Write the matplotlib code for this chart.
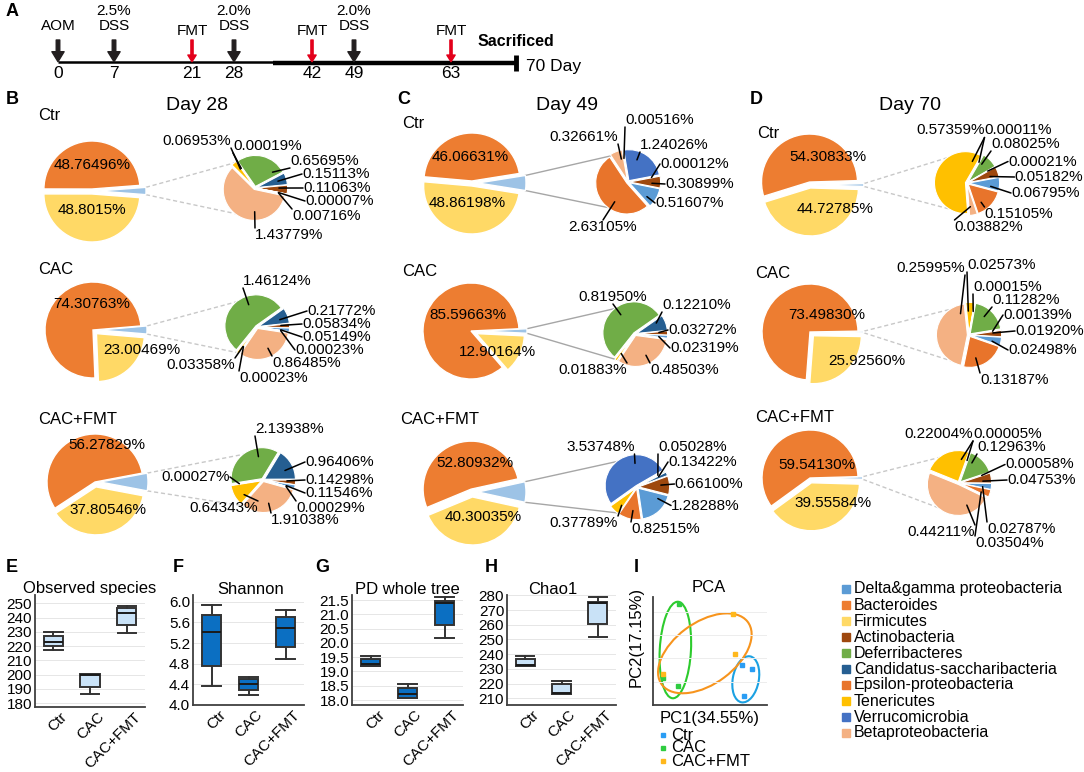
import numpy as np
import matplotlib
matplotlib.use("Agg")
import matplotlib.pyplot as plt
from matplotlib.patches import Ellipse
from matplotlib.ticker import FormatStrFormatter
from matplotlib.transforms import ScaledTranslation

plt.rcParams['font.family'] = ['Liberation Sans', 'DejaVu Sans']

W, H = 1084, 772

# ============================================================ data

# A - protocole
event_days = [0, 7, 21, 28, 42, 49, 63]
event_kind = ["AOM", "DSS", "FMT", "DSS", "FMT", "DSS", "FMT"]
event_text = ["AOM", "2.5%\nDSS", "FMT", "2.0%\nDSS", "FMT", "2.0%\nDSS", "FMT"]
end_day = 70

# B-D - big pie = Bacteroides / Firmicutes / rest (%)
pie_days = ["Day 28", "Day 49", "Day 70"]
pie_groups = ["Ctr", "CAC", "CAC+FMT"]
bacteroides = [["48.76496", "74.30763", "56.27829"],
               ["46.06631", "85.59663", "52.80932"],
               ["54.30833", "73.49830", "59.54130"]]
firmicutes = [["48.8015", "23.00469", "37.80546"],
              ["48.86198", "12.90164", "40.30035"],
              ["44.72785", "25.92560", "39.55584"]]

# small pie = the rest, clockwise as drawn
minor_keys = [
    [["ver", "def", "can", "act", "eps", "dg", "bet", "ten"],
     ["def", "can", "act", "dg", "eps", "bet", "ver", "ten"],
     ["def", "can", "act", "dg", "eps", "bet", "ten", "ver"]],
    [["can", "ver", "def", "act", "dg", "eps", "bet"],
     ["def", "can", "act", "dg", "bet", "ten"],
     ["ver", "def", "can", "act", "dg", "eps", "ten"]],
    [["ver", "def", "can", "act", "dg", "eps", "bet", "ten"],
     ["ten", "ver", "def", "can", "act", "dg", "eps", "bet"],
     ["ten", "ver", "def", "can", "act", "dg", "eps", "bet"]],
]
minor_vals = [
    [["0.00019", "0.65695", "0.15113", "0.11063", "0.00007", "0.00716", "1.43779", "0.06953"],
     ["1.46124", "0.21772", "0.05834", "0.05149", "0.00023", "0.86485", "0.00023", "0.03358"],
     ["2.13938", "0.96406", "0.14298", "0.11546", "0.00029", "1.91038", "0.64343", "0.00027"]],
    [["0.00516", "1.24026", "0.00012", "0.30899", "0.51607", "2.63105", "0.32661"],
     ["0.81950", "0.12210", "0.03272", "0.02319", "0.48503", "0.01883"],
     ["3.53748", "0.05028", "0.13422", "0.66100", "1.28288", "0.82515", "0.37789"]],
    [["0.00011", "0.08025", "0.00021", "0.05182", "0.06795", "0.15105", "0.03882", "0.57359"],
     ["0.02573", "0.00015", "0.11282", "0.00139", "0.01920", "0.02498", "0.13187", "0.25995"],
     ["0.22004", "0.00005", "0.12963", "0.00058", "0.04753", "0.02787", "0.03504", "0.44211"]],
]

phyla = ["Delta&gamma proteobacteria", "Bacteroides", "Firmicutes", "Actinobacteria",
         "Deferribacteres", "Candidatus-saccharibacteria", "Epsilon-proteobacteria",
         "Tenericutes", "Verrucomicrobia", "Betaproteobacteria"]
phyla_keys = ["dg", "bac", "fir", "act", "def", "can", "eps", "ten", "ver", "bet"]
phyla_colors = ["#5B9BD5", "#ED7D31", "#FFD966", "#9E480E", "#70AD47", "#255E91",
                "#E8742B", "#FFC000", "#4472C4", "#F4B183"]
col = dict(zip(phyla_keys, phyla_colors))
other_color = "#9DC3E6"

# E-H - alpha diversity, box stats
box_groups = ["Ctr", "CAC", "CAC+FMT"]
box_titles = ["Observed species", "Shannon", "PD whole tree", "Chao1"]
box_whislo = [[217.4, 186.0, 229.0], [4.37, 4.19, 4.89], [19.19, 18.08, 20.18], [231.9, 212.8, 252.0]]
box_q1 = [[219.8, 191.4, 234.4], [4.76, 4.29, 5.12], [19.19, 18.08, 20.62], [231.9, 212.8, 260.8]]
box_med = [[222.6, 200.0, 243.5], [5.41, 4.40, 5.50], [19.26, 18.21, 21.38], [232.5, 213.9, 275.0]]
box_q3 = [[227.2, 200.7, 246.5], [5.75, 4.50, 5.71], [19.42, 18.43, 21.48], [236.7, 219.8, 275.7]]
box_whishi = [[229.8, 200.7, 248.4], [5.94, 4.55, 5.83], [19.55, 18.56, 21.59], [238.9, 222.0, 278.6]]
box_ticks = [[180, 190, 200, 210, 220, 230, 240, 250],
             [4.0, 4.4, 4.8, 5.2, 5.6, 6.0],
             [18.0, 18.5, 19.0, 19.5, 20.0, 20.5, 21.0, 21.5],
             [210, 220, 230, 240, 250, 260, 270, 280]]

# I - PCA (arbitrary units)
pca_groups = ["Ctr", "CAC", "CAC+FMT"]
pca_pc1 = [[257, 287, 263], [75, 30, 73], [230, 238, 30]]
pca_pc2 = [[119, 109, 27], [303, 80, 58], [273, 152, 92]]
pca_ell_center = [(268, 77), (65, 165), (150, 155)]
pca_ell_size = [(75, 140, -10), (90, 290, -3), (311, 183, 38)]
pca_colors = ["#2A9DF4", "#2ECC40", "#FFB81C"]
pca_ell_colors = ["#1BA1E2", "#2DCB2D", "#F7941D"]

# ============================================================ layout (pixels, y down)

tl_days = [0, 7, 21, 28, 42, 49, 63, 70]
tl_px = [58, 114, 192, 234, 312, 354, 451, 516]

R_BIG, R_SMALL = 48, 31
big_center = [[(92, 191), (93, 330), (95, 482)],
              [(472, 183), (471, 331), (472, 492)],
              [(810, 185), (810, 332), (810, 478)]]
big_explode = [[(6, 2, 3), (6, 0, 5), (5, 0, 5)],
               [(6, 2, 3), (8, 0, 6), (6, 3, 5)],
               [(6, 3, 3), (6, 0, 5), (5, 0, 5)]]
big_lab = [[((0, 26), (0, -19)), ((-1, 26), (49, -20)), ((12, 37), (13, -28))],
           [((-2, 26), (-5, -20)), ((-3, 16), (26, -21)), ((3, 29), (11, -25))],
           [((18, 28), (25, -24)), ((17, 17), (57, -29)), ((7, 13), (23, -25))]]
small_center = [[(255, 188), (257, 327), (263, 480)],
                [(628, 182), (635, 334), (637, 487)],
                [(967, 183), (969, 335), (959, 483)]]
small_start = [[125, 231, 189], [100, 231.5, 215.4], [60, 96, 158]]
small_lab = [
    [[(-22, 42, 'l'), (35, 27, 'l'), (47, 14, 'l'), (48, 0, 'l'), (50, -13, 'l'), (37, -28, 'l'), (0, -47, 'l'), (-24, 47, 'r')],
     [(-14, 46, 'l'), (50, 16, 'l'), (45, 3, 'l'), (45, -10, 'l'), (38, -23, 'l'), (15, -36, 'l'), (-18, -51, 'l'), (-22, -38, 'r')],
     [(-8, 51, 'l'), (42, 18, 'l'), (42, 0, 'l'), (42, -13, 'l'), (33, -28, 'l'), (8, -40, 'l'), (-5, -28, 'r'), (-33, 3, 'r')]],
    [[(-3, 62, 'l'), (12, 37, 'l'), (32, 18, 'l'), (37, -2, 'l'), (27, -21, 'l'), (-25, -45, 'c'), (-10, 45, 'r')],
     [(-22, 37, 'c'), (27, 29, 'l'), (33, 4, 'l'), (35, -14, 'l'), (15, -36, 'l'), (-8, -36, 'r')],
     [(-2.5, 40, 'r'), (21, 40, 'l'), (31, 25, 'l'), (37.5, 3, 'l'), (34, -18.5, 'l'), (-6, -42, 'l'), (-19, -36, 'r')]],
    [[(17.5, 52.5, 'l'), (24, 39, 'l'), (41, 21.5, 'l'), (47.5, 6, 'l'), (44, -10, 'l'), (17.5, -31, 'l'), (-12.5, -44, 'l'), (17.5, 52.5, 'r')],
     [(-2, 70, 'l'), (4, 48, 'l'), (23, 35, 'l'), (34, 20, 'l'), (46, 4, 'l'), (39, -15, 'l'), (11, -45, 'l'), (-4, 67, 'r')],
     [(14, 49, 'r'), (14, 49, 'l'), (18, 36, 'l'), (46, 18.5, 'l'), (48, 3, 'l'), (28, -46, 'l'), (16, -60, 'l'), (16, -49, 'r')]],
]
group_lab_pos = [[(38, 115), (38, 270), (38, 419)],
                 [(402, 124), (402, 272), (400, 420)],
                 [(757, 134), (755, 273), (755, 417)]]
panel_pos = [(12, 99), (404, 99), (756, 99)]
day_pos = [(197, 105), (567, 105), (910, 105)]

box_rects = [(35, 595, 145, 707), (193, 595, 304, 705), (352, 595, 463, 705), (507, 595, 616, 705)]
box_ylims = [(177.2, 255.8), (4.0, 6.13), (17.825, 21.675), (205.5, 280.2)]
box_fill = ["#C9E2F7", "#0B6FC2", "#0B6FC2", "#C9E2F7"]
box_fmt = ['%d', '%.1f', '%.1f', '%d']
box_title_x = [90, 251, 407, 553]
letters_EI = [("E", 12), ("F", 178), ("G", 322), ("H", 491), ("I", 636)]
pca_rect = (652.8, 597, 767.3, 705)


def Y(py):
    return H - py


fig = plt.figure(figsize=(W / 100, H / 100), dpi=100)
ax = fig.add_axes([0, 0, 1, 1])

# ============================================================ B-D pies
HA = {'l': 'left', 'r': 'right', 'c': 'center'}
RX = {'l': 0.0, 'r': 1.0, 'c': 0.5}


def anchor_on(w, tx, ty):
    cx, cy = w.center
    t1, t2 = w.theta1, w.theta2
    phi = np.degrees(np.arctan2(ty - cy, tx - cx))
    phi = t1 + (phi - t1) % 360
    m = min(0.25 * (t2 - t1), 12)
    if phi > t2:
        phi = t2 - m if (phi - t2) < (t1 + 360 - phi) else t1 + m
    else:
        phi = min(max(phi, t1 + m), t2 - m)
    a = np.radians(phi)
    return cx + 0.72 * w.r * np.cos(a), cy + 0.72 * w.r * np.sin(a)


for d in range(3):
    for g in range(3):
        bac = float(bacteroides[d][g])
        fir = float(firmicutes[d][g])
        vals = [float(v) for v in minor_vals[d][g]]
        oth = sum(vals)
        tot = bac + fir + oth
        bx, by = big_center[d][g]
        wb, _ = ax.pie([oth, bac, fir], colors=[other_color, col['bac'], col['fir']],
                       startangle=-180 * oth / tot, counterclock=True,
                       center=(bx, Y(by)), radius=R_BIG, explode=big_explode[d][g],
                       wedgeprops=dict(edgecolor='white', linewidth=1.0), frame=True)
        (l1, l2) = big_lab[d][g]
        ax.text(bx + l1[0], Y(by) + l1[1], bacteroides[d][g] + "%", ha='center', va='center', fontsize=11)
        ax.text(bx + l2[0], Y(by) + l2[1], firmicutes[d][g] + "%", ha='center', va='center', fontsize=11)

        sx, sy = small_center[d][g]
        ws, _ = ax.pie(vals, colors=[col[k] for k in minor_keys[d][g]],
                       startangle=small_start[d][g], counterclock=False,
                       center=(sx, Y(sy)), radius=R_SMALL, explode=[1.6] * len(vals),
                       wedgeprops=dict(edgecolor='white', linewidth=0.8), frame=True)

        # lignes de liaison
        w0 = wb[0]
        cx, cy = w0.center
        ls = '-' if d == 1 else (0, (3, 2))
        lc = '#A6A6A6' if d == 1 else '#C8C8C8'
        for t_big, t_small in [(w0.theta2, 122), (w0.theta1, -122)]:
            p0 = (cx + R_BIG * np.cos(np.radians(t_big)), cy + R_BIG * np.sin(np.radians(t_big)))
            p1 = (sx + R_SMALL * np.cos(np.radians(t_small)), Y(sy) + R_SMALL * np.sin(np.radians(t_small)))
            ax.plot([p0[0], p1[0]], [p0[1], p1[1]], color=lc, lw=1.0, ls=ls, zorder=0)

        for w, txt, (dx, dy, ha) in zip(ws, minor_vals[d][g], small_lab[d][g]):
            tx, ty = sx + dx, Y(sy) + dy
            if dy > 25:
                ry, ty_att = 0.0, ty - 7
            elif dy < -25:
                ry, ty_att = 1.0, ty + 7
            else:
                ry, ty_att = 0.5, ty
            xy = anchor_on(w, tx, ty_att)
            ax.annotate(txt + "%", xy=xy, xytext=(tx, ty), ha=HA[ha], va='center', fontsize=11,
                        arrowprops=dict(arrowstyle='-', color='black', lw=1.1, relpos=(RX[ha], ry),
                                        shrinkA=0, shrinkB=0, patchA=None))

        gx, gy = group_lab_pos[d][g]
        ax.text(gx, Y(gy), pie_groups[g], ha='left', va='center', fontsize=12)

    ax.text(panel_pos[d][0], Y(panel_pos[d][1]), "BCD"[d], ha='center', va='center',
            fontsize=13, fontweight='bold')
    ax.text(day_pos[d][0], Y(day_pos[d][1]), pie_days[d], ha='center', va='center', fontsize=14)

# E-I lettres et titres
for letter, lx in letters_EI:
    ax.text(lx, Y(567), letter, ha='center', va='center', fontsize=13, fontweight='bold')
for t, tx in zip(box_titles, box_title_x):
    ax.text(tx, Y(589), t, ha='center', va='center', fontsize=12)
ax.text(709, Y(588), "PCA", ha='center', va='center', fontsize=12)
ax.text(12, Y(11.7), "A", ha='center', va='center', fontsize=13, fontweight='bold')

# legende principale
for i, (name, c) in enumerate(zip(phyla, phyla_colors)):
    yy = Y(589 + 16.0 * i)
    ax.plot(845.5, yy, 's', color=c, ms=5.5)
    ax.text(854, yy, name, ha='left', va='center', fontsize=11.5)

# legende PCA
for i, (name, c) in enumerate(zip(pca_groups, pca_colors)):
    yy = Y(735 + 13 * i)
    ax.plot(663, yy, 's', color=c, ms=3.5)
    ax.text(671, yy, name, ha='left', va='center', fontsize=12)

ax.set_xlim(0, W)
ax.set_ylim(0, H)
ax.axis('off')

# ============================================================ A timeline
axA = fig.add_axes([tl_px[0] / W, 1 - 90 / H, (tl_px[-1] - tl_px[0]) / W, 90 / H])
axA.set_xscale('function', functions=(lambda d: np.interp(d, tl_days, tl_px),
                                       lambda p: np.interp(p, tl_px, tl_days)))
axA.set_xlim(0, end_day)
axA.set_ylim(90, 0)
axA.axis('off')
axA.plot([0, 35], [62.2, 62.2], color='black', lw=1.8, solid_capstyle='butt', clip_on=False)
axA.plot([35, end_day], [63.2, 63.2], color='black', lw=3.2, solid_capstyle='butt', clip_on=False)
axA.plot([end_day, end_day], [55, 70.7], color='black', lw=3.5, solid_capstyle='butt', clip_on=False)
for dd, kind, txt in zip(event_days, event_kind, event_text):
    if kind == "FMT":
        axA.annotate('', xy=(dd, 61.7), xytext=(dd, 40),
                     arrowprops=dict(arrowstyle='simple,head_width=0.75,head_length=0.6,tail_width=0.2',
                                     mutation_scale=8, color='#E3001B', shrinkA=0, shrinkB=0),
                     annotation_clip=False)
        axA.text(dd, 38.3, txt, ha='center', va='bottom', fontsize=11, clip_on=False)
    else:
        axA.annotate('', xy=(dd, 61.7), xytext=(dd, 40),
                     arrowprops=dict(arrowstyle='simple,head_width=1.1,head_length=0.9,tail_width=0.32',
                                     mutation_scale=8, color='#231F20', shrinkA=0, shrinkB=0),
                     annotation_clip=False)
        axA.text(dd, 33.3, txt, ha='center', va='bottom', fontsize=11, linespacing=1.15, clip_on=False)
    axA.text(dd, 74, str(dd), ha='center', va='center', fontsize=12.5, clip_on=False)
axA.text(end_day, 41.7, "Sacrificed", ha='center', va='center', fontsize=11.5, fontweight='bold', clip_on=False)
axA.annotate("70 Day", xy=(end_day, 66.7), xytext=(7, 0), textcoords='offset points',
             ha='left', va='center', fontsize=12.5, annotation_clip=False)

# ============================================================ E-H boxplots
for i in range(4):
    l, t, r, b = box_rects[i]
    axb = fig.add_axes([l / W, 1 - b / H, (r - l) / W, (b - t) / H])
    stats = [dict(whislo=box_whislo[i][j], q1=box_q1[i][j], med=box_med[i][j],
                  q3=box_q3[i][j], whishi=box_whishi[i][j], label=box_groups[j]) for j in range(3)]
    axb.bxp(stats, positions=[1, 2, 3], widths=0.52, patch_artist=True, showfliers=False,
            boxprops=dict(facecolor=box_fill[i], edgecolor='#333333', linewidth=1.4),
            whiskerprops=dict(color='#333333', linewidth=1.4),
            capprops=dict(color='#333333', linewidth=1.4),
            medianprops=dict(color='#1A1A1A', linewidth=1.4), capwidths=0.5)
    axb.set_xlim(0.5, 3.5)
    axb.set_ylim(*box_ylims[i])
    axb.set_yticks(box_ticks[i])
    axb.yaxis.set_major_formatter(FormatStrFormatter(box_fmt[i]))
    axb.tick_params(length=0, pad=2, labelsize=11)
    axb.tick_params(axis='x', labelsize=11, pad=2)
    for lab in axb.get_xticklabels():
        lab.set_rotation(45)
        lab.set_ha('right')
        lab.set_va('top')
        lab.set_rotation_mode('anchor')
        lab.set_transform(lab.get_transform() + ScaledTranslation(5 / 72, 0, fig.dpi_scale_trans))
    axb.yaxis.grid(True, color='#E6E6E6', lw=0.7)
    axb.set_axisbelow(True)
    for s in ['top', 'right']:
        axb.spines[s].set_visible(False)
    for s in ['left', 'bottom']:
        axb.spines[s].set_color('#404040')
        axb.spines[s].set_linewidth(1.3)

# ============================================================ I PCA
l, t, r, b = pca_rect
axp = fig.add_axes([l / W, 1 - b / H, (r - l) / W, (b - t) / H])
for j in range(3):
    axp.plot(pca_pc1[j], pca_pc2[j], 's', color=pca_colors[j], ms=2.2, ls='none')
    (ex, ey), (ew, eh, ea) = pca_ell_center[j], pca_ell_size[j]
    axp.add_patch(Ellipse((ex, ey), ew, eh, angle=ea, fill=False, edgecolor=pca_ell_colors[j], lw=1.5))
axp.set_xlim(0, 330)
axp.set_ylim(0, 324)
axp.set_xticks([])
axp.set_yticks([70, 140, 210, 280])
axp.set_yticklabels([])
axp.tick_params(length=0)
axp.yaxis.grid(True, color='#EDEDED', lw=0.7)
for s in ['top', 'right']:
    axp.spines[s].set_visible(False)
for s in ['left', 'bottom']:
    axp.spines[s].set_color('#404040')
    axp.spines[s].set_linewidth(1.3)
axp.set_xlabel("PC1(34.55%)", fontsize=12, labelpad=4)
axp.set_ylabel("PC2(17.15%)", fontsize=12)
axp.yaxis.set_label_coords(-0.08, 0.63)

fig.savefig("out.png", dpi=100)
